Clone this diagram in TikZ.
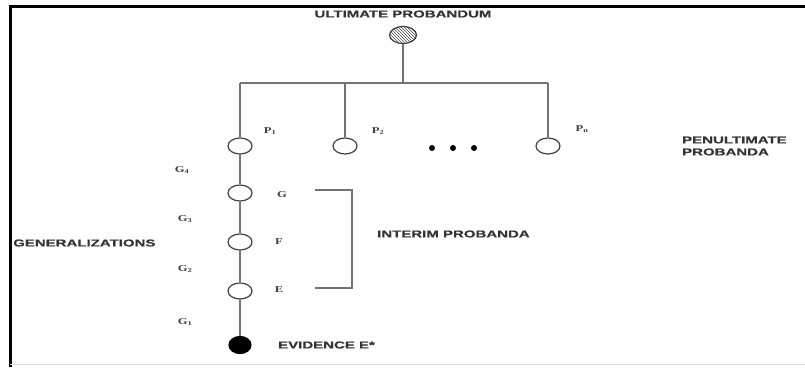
\documentclass[tikz,border=0pt]{standalone}
\usepackage{fontspec}
\setmainfont{Liberation Sans}
\newfontfamily\capfont{Liberation Sans Bold}[FakeStretch=1.5, FakeBold=0.6]
\newfontfamily\labelfont{Liberation Serif Bold}[FakeStretch=1.4]
\usetikzlibrary{shapes.geometric,patterns}

\begin{document}
\begin{tikzpicture}[
  x=1pt, y=-1pt,
  caption/.style={font=\capfont\fontsize{10}{12}\selectfont, text=black!80, inner sep=0pt},
  tag/.style={font=\labelfont\fontsize{9}{10}\selectfont, text=black!75, inner sep=0pt},
  proband/.style={ellipse, draw=black!75, line width=1.2pt, fill=white, minimum width=24pt, minimum height=16pt, inner sep=0pt},
  ultimate/.style={proband, minimum width=27pt, minimum height=17pt, preaction={fill=white}, pattern=north west lines, pattern color=black!70},
  evidence/.style={proband, fill=black, draw=black, minimum width=22pt, minimum height=17pt},
  ellipsis/.style={circle, fill=black, inner sep=0pt, minimum size=6pt},
  link/.style={draw=black!55, line width=1.5pt}
]
\useasboundingbox (0,0) rectangle (805,367);
% frame
\draw[line width=3pt] (805,6) -- (10,6) -- (10,367);
\draw[black!12, line width=1pt] (10,364) -- (805,364);

% ultimate probandum
\node[caption] (ult-text) at (403,14) {ULTIMATE PROBANDUM};
\node[ultimate] (ult) at (403,35) {};
\coordinate (bar) at (403,83);
\coordinate (bar-l) at (240,83);
\coordinate (bar-r) at (548,83);

% penultimate probanda
\node[proband] (p1) at (240,146) {};
\node[proband] (p2) at (345,146) {};
\node[proband] (pn) at (548,146) {};
\foreach \i/\x in {1/432,2/453,3/474}
  \node[ellipsis] (dot\i) at (\x,148) {};
\node[tag] (p1-text) at (270,131) {P\textsubscript{1}};
\node[tag] (p2-text) at (378,131) {P\textsubscript{2}};
\node[tag] (pn-text) at (582,129) {P\textsubscript{n}};
\node[caption, anchor=west, align=left] (penult-text) at (682,146) {PENULTIMATE\\PROBANDA};

% interim probanda and evidence
\node[proband] (g) at (240,193) {};
\node[proband] (f) at (240,242) {};
\node[proband] (e) at (240,291) {};
\node[evidence] (ev) at (240,345) {};
\node[tag] (g-text) at (282,195) {G};
\node[tag] (f-text) at (279,242) {F};
\node[tag] (e-text) at (279,290) {E};
\node[caption, anchor=west] (ev-text) at (278,345) {EVIDENCE E*};

% generalizations
\node[tag] (g4) at (182,170) {G\textsubscript{4}};
\node[tag] (g3) at (185,219) {G\textsubscript{3}};
\node[tag] (g2) at (185,269) {G\textsubscript{2}};
\node[tag] (g1) at (185,322) {G\textsubscript{1}};
\node[caption, anchor=west] (gen-text) at (13,243) {GENERALIZATIONS};

% bracket
\coordinate (br-top) at (315,190);
\coordinate (br-bot) at (315,288);
\coordinate (br-corner) at (352,288);
\node[caption, anchor=west] (interim-text) at (377,234) {INTERIM PROBANDA};

% connectors
\draw[link] (ult) -- (bar);
\draw[link] (bar-l) -- (bar-r);
\draw[link] (bar-l) -- (p1);
\draw[link] (p2 |- bar) -- (p2);
\draw[link] (bar-r) -- (pn);
\draw[link] (p1) -- (g) -- (f) -- (e) -- (ev);
\draw[link, line width=1.2pt] (br-top) -| (br-corner) -- (br-bot);
\end{tikzpicture}
\end{document}
